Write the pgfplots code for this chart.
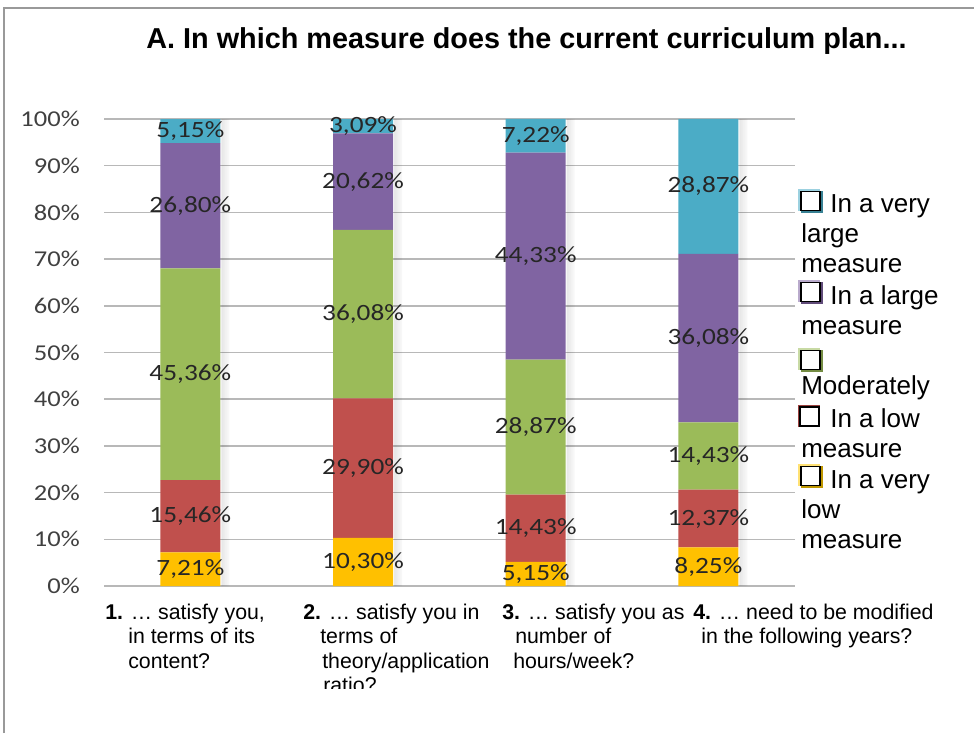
\documentclass[border=0pt]{standalone}
\usepackage{pgfplots}
\pgfplotsset{compat=1.18}
\usepackage{pgfplotstable}
\usepackage{fontspec}
\setmainfont{Liberation Sans}
\newfontfamily\labfont[FakeStretch=1.17]{Carlito}
\definecolor{cVL}{HTML}{FFC000}
\definecolor{cL}{HTML}{C0504D}
\definecolor{cM}{HTML}{9BBB59}
\definecolor{cLa}{HTML}{8064A2}
\definecolor{cVLa}{HTML}{4BACC6}

\pgfplotstableread{
x a b c d e
0 7.21 15.46 45.36 26.80 5.15
1 10.30 29.90 36.08 20.62 3.09
2 5.15 14.43 28.87 44.33 7.22
3 8.25 12.37 14.43 36.08 28.87
}\data

\newcommand\lbox[1]{\tikz[x=0.75pt,y=0.75pt]{%
  \fill[#1!55!white] (-2,0) rectangle (20,22);
  \fill[#1!75!black] (1,-2) rectangle (23,20);
  \draw[black,line width=1.4pt,fill=white] (0.5,0.5) rectangle (19.5,19.5);}}
\newcommand\lboxthin[1]{\tikz[x=0.75pt,y=0.75pt]{%
  \fill[#1!80!black] (-0.8,-0.8) rectangle (20.8,20.8);
  \draw[black,line width=1.4pt,fill=white] (0.5,0.5) rectangle (19.5,19.5);}}

\pgfplotsset{
  base/.style={
    at={(78pt,110.25pt)}, anchor=south west,
    x=129.5pt, y=3.5025pt,
    xmin=-0.5, xmax=3.5, ymin=0, ymax=100,
    bar width=45pt, clip=false,
  }
}

\begin{document}
\begin{tikzpicture}
\path[use as bounding box] (0,0) rectangle (730.5pt,549.75pt);
\begin{axis}[
  base,
  ybar stacked,
  xtick=\empty, ytick={0,10,...,100},
  /pgf/number format/assume math mode=true,
  yticklabel={\pgfmathprintnumber{\tick}\%},
  yticklabel style={font=\labfont\fontsize{17}{20}\selectfont, text=black!75, anchor=east, inner sep=0pt, xshift=-18pt},
  ymajorgrids, grid style={line width=1.2pt, black!28},
  axis line style={draw=none}, major tick length=0pt,
  nodes near coords={\pgfmathprintnumber[fixed,fixed zerofill,precision=2,use comma]{\segval}\%},
  every node near coord/.append style={font=\labfont\fontsize{17.5}{20}\selectfont, text=black!85, anchor=center, inner sep=0pt},
]
\addplot[fill=cVL, draw=none, visualization depends on={\thisrow{a}\as\segval}] table[x=x,y=a]{\data};
\addplot[fill=cL, draw=none, visualization depends on={\thisrow{b}\as\segval}] table[x=x,y=b]{\data};
\addplot[fill=cM, draw=none, visualization depends on={\thisrow{c}\as\segval}] table[x=x,y=c]{\data};
\addplot[fill=cLa, draw=none, visualization depends on={\thisrow{d}\as\segval}] table[x=x,y=d]{\data};
\addplot[fill=cVLa, draw=none, visualization depends on={\thisrow{e}\as\segval}] table[x=x,y=e]{\data};
\end{axis}
% soft shadow on the right of each bar
\begin{axis}[base, ybar, hide axis]
\addplot[fill=black, fill opacity=0.09, draw=none, bar shift=24pt, bar width=1.5pt] table[x=x, y expr=\thisrow{a}+\thisrow{b}+\thisrow{c}+\thisrow{d}+\thisrow{e}]{\data};
\addplot[fill=black, fill opacity=0.07, draw=none, bar shift=25.5pt, bar width=1.5pt] table[x=x, y expr=\thisrow{a}+\thisrow{b}+\thisrow{c}+\thisrow{d}+\thisrow{e}]{\data};
\addplot[fill=black, fill opacity=0.05, draw=none, bar shift=27pt, bar width=1.5pt] table[x=x, y expr=\thisrow{a}+\thisrow{b}+\thisrow{c}+\thisrow{d}+\thisrow{e}]{\data};
\addplot[fill=black, fill opacity=0.03, draw=none, bar shift=28.5pt, bar width=1.5pt] table[x=x, y expr=\thisrow{a}+\thisrow{b}+\thisrow{c}+\thisrow{d}+\thisrow{e}]{\data};
\end{axis}

\begin{scope}[x=0.75pt,y=0.75pt]
% frame
\draw[black!40, line width=1.5pt] (4,0) -- (4,725) -- (974,725);
% title
\node[anchor=base, inner sep=0pt, font=\bfseries\fontsize{21.6}{25}\selectfont] at (526.5,684) {A. In which measure does the current curriculum plan...};
% legend
\begin{scope}[every node/.style={anchor=base west, inner sep=0pt, font=\fontsize{19.5}{23}\selectfont}]
\node at (798,520) {\lbox{cVLa}};
\node at (830,520) {In a very};
\node at (801,490) {large};
\node at (801,460) {measure};
\node at (798,429) {\lbox{cLa}};
\node at (830,429) {In a large};
\node at (801,398) {measure};
\node at (798,361) {\lbox{cM}};
\node at (801,339) {Moderately};
\node at (798,306) {\lboxthin{cL}};
\node at (830,306) {In a low};
\node at (801,276) {measure};
\node at (798,245) {\lbox{cVL!85!yellow}};
\node at (830,245) {In a very};
\node at (801,215) {low};
\node at (801,185) {measure};
\end{scope}
% category labels
\begin{scope}[every node/.style={anchor=base west, inner sep=0pt, font=\fontsize{16}{19}\selectfont}]
\node at (105,114) {\textbf{1.} … satisfy you,};
\node at (128,90) {in terms of its};
\node at (128,65) {content?};
\node at (303,114) {\textbf{2.} … satisfy you in};
\node at (320,90) {terms of};
\node at (322,65) {theory/application};
\begin{scope}
\clip (300,45) rectangle (450,70);
\node at (323,41) {ratio?};
\end{scope}
\node at (502,114) {\textbf{3.} … satisfy you as};
\node at (515,90) {number of};
\node at (513,65) {hours/week?};
\node at (693,114) {\textbf{4.} … need to be modified};
\node at (701,90) {in the following years?};
\end{scope}
\end{scope}
\end{tikzpicture}
\end{document}
